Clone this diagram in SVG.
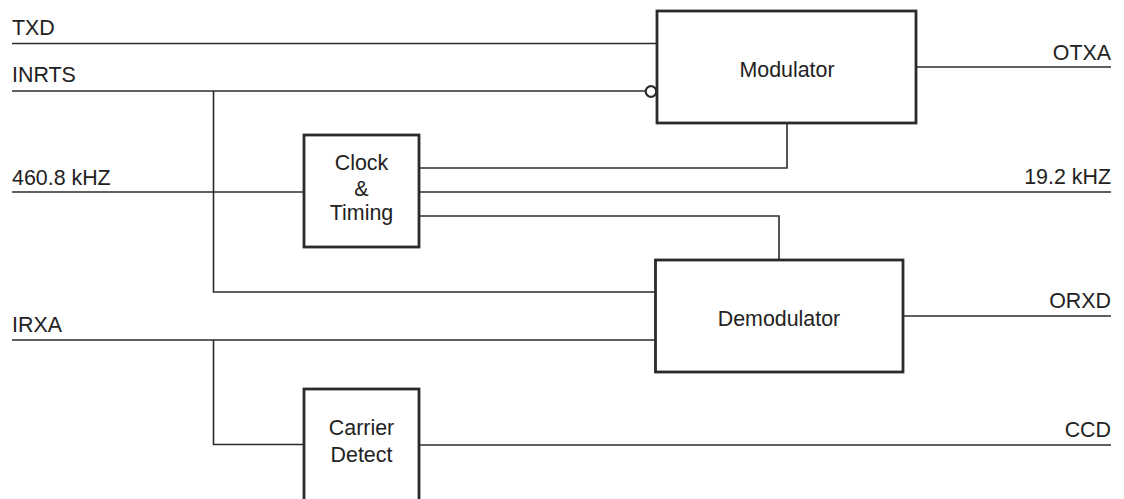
<svg xmlns="http://www.w3.org/2000/svg" width="1124" height="499" viewBox="0 0 1124 499">
<style>
.w{fill:none;stroke:#2b2b2b;stroke-width:1.6}
.b{fill:#fff;stroke:#2b2b2b;stroke-width:2.8}
.t{font-family:"Liberation Sans",Arial,sans-serif;font-size:21.4px;fill:#222}
.m{text-anchor:middle}
.e{text-anchor:end}
</style>
<rect width="1124" height="499" fill="#fff"/>
<g id="connectors">
<path class="w" d="M12 43.5H657"/>
<path class="w" d="M12 91H645"/>
<path class="w" d="M213.5 91V292H655"/>
<path class="w" d="M12 192H304"/>
<path class="w" d="M419 192H1111"/>
<path class="w" d="M419 168H787V123"/>
<path class="w" d="M419 216H779V260"/>
<path class="w" d="M916 67H1111"/>
<path class="w" d="M903 316H1111"/>
<path class="w" d="M12 340H655"/>
<path class="w" d="M213.5 340V444.5H304"/>
<path class="w" d="M419 445H1111"/>
<circle cx="651" cy="91.5" r="5.3" fill="#fff" stroke="#2b2b2b" stroke-width="2.2"/>
</g>
<g id="labels">
<text class="t" x="12" y="35">TXD</text>
<text class="t" x="12" y="82">INRTS</text>
<text class="t" x="12" y="185">460.8 kHZ</text>
<text class="t" x="12" y="332">IRXA</text>
<text class="t e" x="1111" y="60">OTXA</text>
<text class="t e" x="1111" y="184">19.2 kHZ</text>
<text class="t e" x="1111" y="308">ORXD</text>
<text class="t e" x="1111" y="437">CCD</text>
</g>
<g id="modulator">
<rect class="b" x="657" y="11" width="259" height="112"/>
<text class="t m" x="787" y="77">Modulator</text>
</g>
<g id="clock">
<rect class="b" x="304" y="135" width="115" height="112"/>
<text class="t m" x="361.5" y="170">Clock</text>
<text class="t m" x="361.5" y="196">&amp;</text>
<text class="t m" x="361.5" y="220">Timing</text>
</g>
<g id="demodulator">
<rect class="b" x="655.5" y="260" width="247.5" height="112"/>
<text class="t m" x="779" y="326">Demodulator</text>
</g>
<g id="carrier">
<rect class="b" x="304" y="389" width="115" height="130"/>
<text class="t m" x="361.5" y="435">Carrier</text>
<text class="t m" x="361.5" y="461.5">Detect</text>
</g>
</svg>
